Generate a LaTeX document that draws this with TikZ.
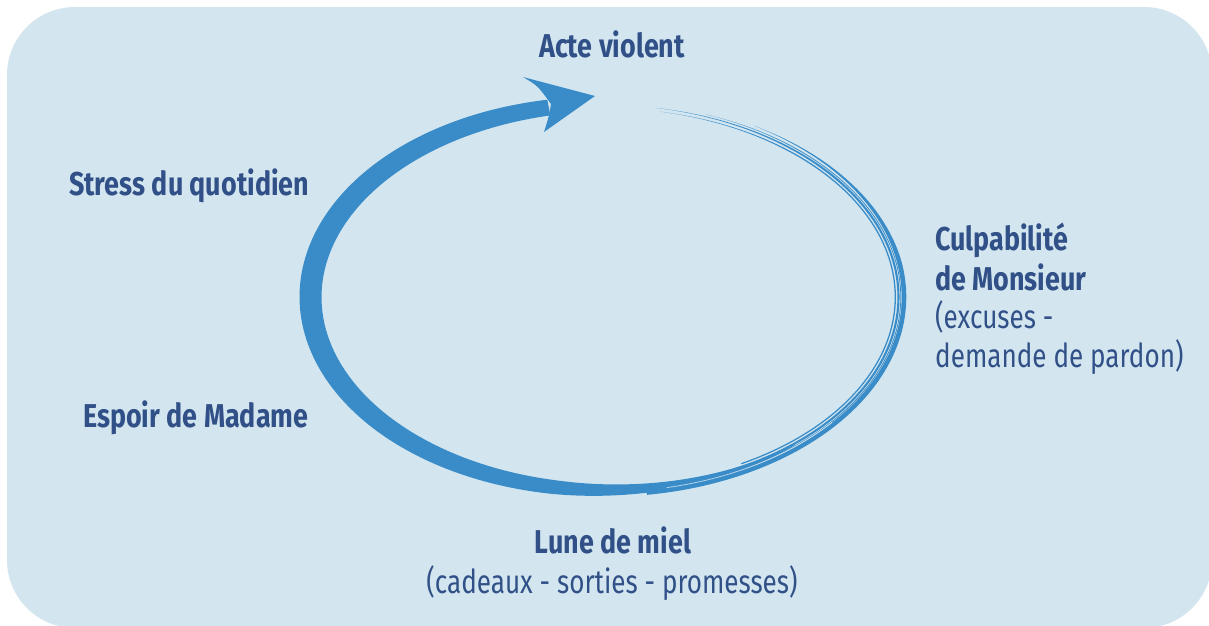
\documentclass[tikz,border=0pt]{standalone}
\usepackage{fontspec}
\setmainfont[FakeStretch=0.79,BoldFeatures={FakeStretch=0.815}]{Fira Sans}
\definecolor{bgc}{RGB}{211,230,240}
\definecolor{arrowc}{RGB}{58,140,200}
\definecolor{txtc}{RGB}{48,80,135}
\begin{document}
\begin{tikzpicture}[x=1pt,y=-1pt,
  lbl/.style={inner sep=0pt,text=txtc,font=\fontsize{33}{39}\selectfont\bfseries},
  sub/.style={inner sep=0pt,text=txtc,font=\fontsize{33}{39}\selectfont},
  strand/.style={fill=arrowc}]
\useasboundingbox (0,0) rectangle (1209,625);
\fill[white] (0,0) rectangle (1209,625);
\fill[bgc,rounded corners=68pt] (7,7) rectangle (1212,628);
% thick tapered band (piecewise width)
\fill[arrowc]
  plot[domain=50:100,samples=40,variable=\t] ({605+(294.5+(1+13*(\t-50)/50)/2)*cos(\t)},{297+(193+(1+13*(\t-50)/50)/2)*sin(\t)})
  -- plot[domain=100:259,samples=120,variable=\t] ({605+(294.5+(14+7*sin((\t-100)/159*180)+2*(\t-100)/159)/2)*cos(\t)},{297+(193+(14+7*sin((\t-100)/159*180)+2*(\t-100)/159)/2)*sin(\t)})
  -- plot[domain=259:100,samples=120,variable=\t] ({605+(294.5-(14+7*sin((\t-100)/159*180)+2*(\t-100)/159)/2)*cos(\t)},{297+(193-(14+7*sin((\t-100)/159*180)+2*(\t-100)/159)/2)*sin(\t)})
  -- plot[domain=100:50,samples=40,variable=\t] ({605+(294.5-(1+13*(\t-50)/50)/2)*cos(\t)},{297+(193-(1+13*(\t-50)/50)/2)*sin(\t)})
  -- cycle;
% tapered brush strands: offset / max width / start / ramp / end
\foreach \dd/\mw/\sa/\rp/\sb in {4.5/4.6/-60/50/82, -1/2.1/-80/40/75, -4.2/1.3/-79/30/62, 1.3/0.8/-70/20/85}{
  \fill[strand]
    plot[domain=\sa:\sb,samples=100,variable=\t] ({605+(294.5+\dd+\mw*min(1,(\t-(\sa))/\rp)/2)*cos(\t)},{297+(193+\dd+\mw*min(1,(\t-(\sa))/\rp)/2)*sin(\t)})
    -- plot[domain=\sb:\sa,samples=100,variable=\t] ({605+(294.5+\dd-\mw*min(1,(\t-(\sa))/\rp)/2)*cos(\t)},{297+(193+\dd-\mw*min(1,(\t-(\sa))/\rp)/2)*sin(\t)})
    -- cycle;
}
\draw[white,opacity=0.6,line width=0.8pt] plot[domain=40:78,samples=40,variable=\t] ({605+(294.5+1.9)*cos(\t)},{297+(193+1.9)*sin(\t)});
% arrow head
\coordinate (tip) at (595,96);
\coordinate (b1) at (523,77);
\coordinate (b2) at (544,132);
\coordinate (notch) at (551,104);
\fill[arrowc] (tip) -- (b1) .. controls (538,86) .. (notch) .. controls (549,116) .. (b2) -- cycle;
% labels
\node[lbl,anchor=base] (acte) at (612,57) {Acte violent};
\node[lbl,anchor=base west] (stress) at (69,195) {Stress du quotidien};
\node[lbl,anchor=base west] (culp1) at (935,250) {Culpabilité};
\node[lbl,anchor=base west] (culp2) at (935,290) {de Monsieur};
\node[sub,anchor=base west] (culp3) at (935,328) {(excuses -};
\node[sub,anchor=base west] (culp4) at (935,367) {demande de pardon)};
\node[lbl,anchor=base west] (espoir) at (83,427) {Espoir de Madame};
\node[lbl,anchor=base] (lune) at (613,553) {Lune de miel};
\node[sub,anchor=base] (lune2) at (612,593) {(cadeaux - sorties - promesses)};
\end{tikzpicture}
\end{document}
